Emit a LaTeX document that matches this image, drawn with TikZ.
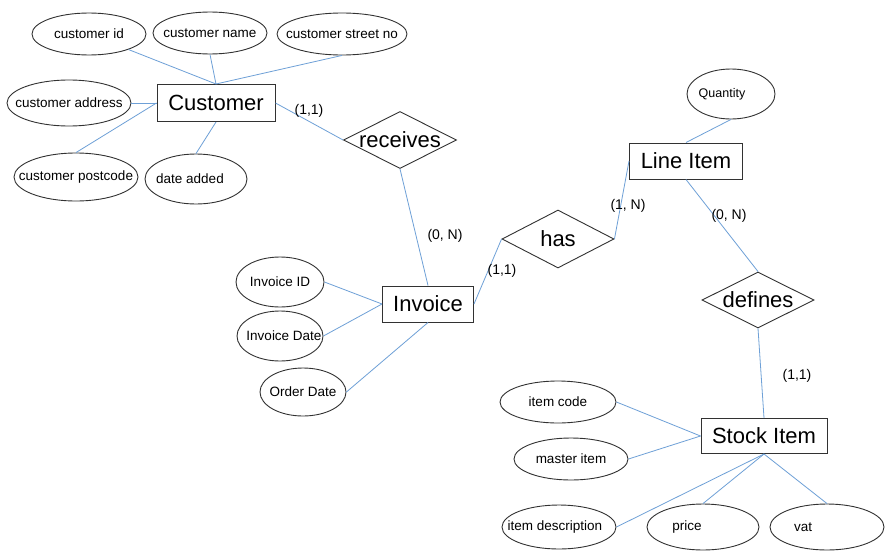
\documentclass[tikz,border=0pt]{standalone}
\usepackage{fontspec}
\setmainfont{Liberation Sans}
\usetikzlibrary{shapes.geometric}
\definecolor{conn}{RGB}{110,160,215}
\definecolor{edgec}{RGB}{50,50,50}
\begin{document}
\begin{tikzpicture}[x=1pt,y=-1pt,
  attr/.style={ellipse, draw=edgec, line width=0.9pt, inner sep=0pt, font=\fontsize{13.5}{15}\selectfont},
  ent/.style={rectangle, draw=edgec, line width=1pt, inner sep=0pt, font=\fontsize{22}{26}\selectfont},
  rel/.style={diamond, draw=edgec, line width=0.9pt, inner sep=0pt, font=\fontsize{22}{26}\selectfont},
  card/.style={font=\fontsize{14}{16}\selectfont, inner sep=0pt},
  link/.style={draw=conn, line width=0.8pt}]
\fill[white] (0,0) rectangle (885,554);
\useasboundingbox (0,0) rectangle (885,554);

% Customer and attributes
\node[ent, minimum width=118pt, minimum height=37pt] (cust) at (216,103) {Customer};
\node[attr, minimum width=114pt, minimum height=42pt] (cid) at (89,34) {\makebox[0pt]{customer id}};
\node[attr, minimum width=114pt, minimum height=42pt] (cname) at (210,33) {\makebox[0pt]{customer name}};
\node[attr, minimum width=130pt, minimum height=42pt] (cstreet) at (342,34) {\makebox[0pt]{customer street no}};
\node[attr, minimum width=124pt, minimum height=46pt] (caddr) at (69,103) {\makebox[0pt]{customer address}};
\node[attr, minimum width=124pt, minimum height=48pt] (cpost) at (76,177) {\makebox[0pt]{customer postcode}};
\node[attr, minimum width=102pt, minimum height=50pt] (cdate) at (196,179) {\makebox[0pt]{date added\kern12pt}};

\node[rel, minimum width=113pt, minimum height=57pt] (rec) at (400,140) {\makebox[0pt]{receives}};

% Invoice and attributes
\node[ent, minimum width=91pt, minimum height=36pt] (inv) at (428,304) {Invoice};
\node[attr, minimum width=88pt, minimum height=50pt] (iid) at (280,282) {\makebox[0pt]{Invoice ID}};
\node[attr, minimum width=86pt, minimum height=50pt] (idate) at (280,336) {\makebox[0pt]{\kern8pt Invoice Date}};
\node[attr, minimum width=86pt, minimum height=48pt] (odate) at (303,392) {\makebox[0pt]{Order Date}};

\node[rel, minimum width=112pt, minimum height=58pt] (has) at (558,239) {\makebox[0pt]{has}};

% Line Item
\node[ent, minimum width=113pt, minimum height=36pt] (li) at (686,161) {Line Item};
\node[attr, minimum width=88pt, minimum height=50pt] (qty) at (731,94) {\makebox[0pt]{\fontsize{12.5}{14}\selectfont Quantity\kern18pt}};

\node[rel, minimum width=112pt, minimum height=56pt] (def) at (758,300) {\makebox[0pt]{defines}};

% Stock Item
\node[ent, minimum width=126pt, minimum height=35pt] (stock) at (764,436) {Stock Item};
\node[attr, minimum width=116pt, minimum height=42pt] (icode) at (558,402) {\makebox[0pt]{item code}};
\node[attr, minimum width=114pt, minimum height=42pt] (mitem) at (571,459) {\makebox[0pt]{master item}};
\node[attr, minimum width=114pt, minimum height=44pt] (idesc) at (559,527) {\makebox[0pt]{item description\kern8pt}};
\node[attr, minimum width=112pt, minimum height=46pt] (price) at (703,527) {\makebox[0pt]{price\kern32pt}};
\node[attr, minimum width=114pt, minimum height=46pt] (vat) at (827,527) {\makebox[0pt]{vat\kern48pt}};

% connectors
\draw[link] (cid) -- (cust.north);
\draw[link] (cname.south) -- (cust.north);
\draw[link] (cstreet.south) -- (cust.north);
\draw[link] (caddr.east) -- (cust.west);
\draw[link] (cpost.north) -- (cust.west);
\draw[link] (cdate.north) -- (cust.south);
\draw[link] (cust.east) -- (rec.west);
\draw[link] (rec.south) -- (inv.north);
\draw[link] (inv.east) -- (has.west);
\draw[link] (has.east) -- (li.west);
\draw[link] (qty.south) -- (li.north);
\draw[link] (li.south) -- (def.north);
\draw[link] (def.south) -- (stock.north);
\draw[link] (iid.east) -- (inv.west);
\draw[link] (idate.east) -- (inv.west);
\draw[link] (odate.east) -- (inv.south);
\draw[link] (icode.east) -- (stock.west);
\draw[link] (mitem.east) -- (stock.west);
\draw[link] (idesc.east) -- (stock.south);
\draw[link] (price.north) -- (stock.south);
\draw[link] (vat.north) -- (stock.south);

% cardinalities
\node[card] (k1) at (309,111) {(1,1)};
\node[card] (k2) at (445,236) {(0, N)};
\node[card] (k3) at (502,271) {(1,1)};
\node[card] (k4) at (628,206) {(1, N)};
\node[card] (k5) at (729,216) {(0, N)};
\node[card] (k6) at (797,376) {(1,1)};
\end{tikzpicture}
\end{document}
